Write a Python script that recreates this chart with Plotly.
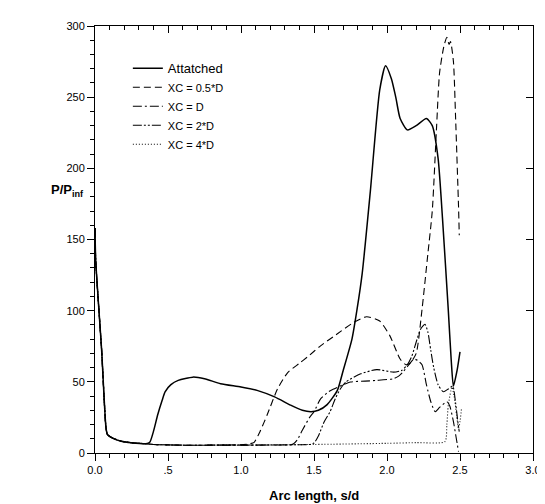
import plotly.graph_objects as go

# shared leading segment (all cases coincide near the nose)
head_s = [0.0, 0.005, 0.045, 0.075, 0.085, 0.12, 0.18, 0.25, 0.35]
head_v = [158, 135, 73, 18, 13, 10.5, 8.3, 7.2, 6.5]

att_s = head_s + [0.375, 0.40, 0.43, 0.46, 0.48, 0.52, 0.57, 0.67, 0.75, 0.86, 1.0, 1.11, 1.23, 1.34,
                  1.42, 1.48, 1.53, 1.59, 1.66, 1.70, 1.76, 1.795, 1.83, 1.886, 1.95, 1.99, 2.03, 2.06,
                  2.09, 2.14, 2.20, 2.27, 2.31, 2.35, 2.38, 2.42, 2.44, 2.455, 2.48, 2.50]
att_v = head_v + [7.5, 15, 27, 37, 43, 48, 51, 53.3, 52.2, 48.7, 46.4, 44, 39.4, 33.6,
                  30, 29, 30, 34, 44, 58, 80, 101, 126, 184, 255, 272, 263, 250,
                  235, 227, 230, 235, 230, 207, 165, 100, 65, 47, 58, 71]

xc05_s = head_s + [0.4, 0.6, 0.8, 1.0, 1.06, 1.09, 1.13, 1.18, 1.25, 1.32, 1.40, 1.455, 1.545, 1.65,
                   1.77, 1.86, 1.95, 2.02, 2.09, 2.13, 2.16, 2.20, 2.24, 2.28, 2.31, 2.34, 2.36, 2.39,
                   2.41, 2.425, 2.435, 2.455, 2.47, 2.49, 2.495]
xc05_v = head_v + [6, 5.5, 5.5, 5.8, 6.5, 7.5, 15, 27, 45, 56.5, 63, 67.5, 75.3, 83,
                   91.6, 95.7, 92.7, 82.3, 66, 62, 63.3, 70, 101, 140, 170, 230, 267, 286,
                   292, 287, 289, 275, 235, 173, 153]

xc1_s = head_s + [0.4, 0.6, 0.8, 1.0, 1.2, 1.34, 1.36, 1.386, 1.42, 1.47, 1.50, 1.545, 1.60, 1.636,
                  1.70, 1.75, 1.85, 1.93, 2.045, 2.08, 2.11, 2.15, 2.185, 2.21, 2.24, 2.27, 2.30,
                  2.33, 2.36, 2.41, 2.43, 2.455, 2.475, 2.49]
xc1_v = head_v + [6, 5.5, 5.5, 5.5, 5.6, 5.8, 6.5, 9.3, 16, 25, 29, 38, 43, 45,
                  48, 49.9, 50.5, 51, 52.2, 54, 57, 62, 66, 65, 62, 48, 36,
                  29, 32, 36, 33, 22, 10, 1]

xc2_s = head_s + [0.4, 0.6, 0.8, 1.0, 1.2, 1.4, 1.47, 1.50, 1.53, 1.57, 1.61, 1.645, 1.68, 1.72,
                  1.82, 1.93, 2.045, 2.10, 2.135, 2.17, 2.20, 2.23, 2.26, 2.28, 2.30, 2.32, 2.35,
                  2.386, 2.42, 2.45, 2.47, 2.488, 2.495]
xc2_v = head_v + [6, 5.5, 5.5, 5.5, 5.6, 5.8, 6, 7, 12, 22, 29, 38, 45, 50,
                  55.6, 58.6, 56.8, 58, 61.4, 68, 78, 87, 90.4, 85, 72, 60, 48,
                  43, 45, 47, 35, 19.7, 15]

xc4_s = head_s + [0.4, 0.6, 1.0, 1.5, 2.0, 2.2, 2.397, 2.41, 2.42, 2.445, 2.46, 2.477, 2.49, 2.50, 2.51]
xc4_v = head_v + [6, 5.5, 5.6, 6, 6.8, 7.3, 8, 20, 33.6, 46.4, 40, 26.6, 17, 22, 31]

names = ["<span style='font-size:13px'>Attatched</span>", "XC = 0.5*D", "XC = D", "XC = 2*D", "XC = 4*D"]
xs = [att_s, xc05_s, xc1_s, xc2_s, xc4_s]
ys = [att_v, xc05_v, xc1_v, xc2_v, xc4_v]
dashes = ["solid", "7px,4px", "9px,3px,2px,3px", "9px,2px,2px,2px,2px,2px", "1px,2px"]
widths = [1.5, 1.1, 1.1, 1.1, 1.1]

x_tickvals = [0, 0.5, 1.0, 1.5, 2.0, 2.5, 3.0]
x_ticktext = ["0.0", ".5", "1.0", "1.5", "2.0", "2.5", "3.0"]
y_tickvals = [0, 50, 100, 150, 200, 250, 300]

fig = go.Figure()
for n, x, y, d, w in zip(names, xs, ys, dashes, widths):
    fig.add_trace(go.Scatter(x=x, y=y, name=n, mode="lines",
                             line=dict(color="black", width=w, dash=d, shape="spline", smoothing=0.6)))

# invisible trace to activate mirrored axes
fig.add_trace(go.Scatter(x=[0], y=[0], xaxis="x2", yaxis="y2", mode="markers",
                         marker=dict(opacity=0), showlegend=False, hoverinfo="skip"))

font = dict(family="Liberation Sans, Arial, sans-serif", size=11, color="black")

fig.update_layout(
    width=545, height=504,
    margin=dict(l=87, r=18, t=13, b=59),
    paper_bgcolor="white", plot_bgcolor="white",
    font=font,
    showlegend=True,
    legend=dict(x=0.075, y=0.935, xanchor="left", yanchor="top", bgcolor="rgba(0,0,0,0)",
                font=dict(family="Liberation Sans, Arial, sans-serif", size=11, color="black"),
                tracegroupgap=0, itemwidth=30),
    xaxis=dict(range=[0, 3], tickvals=x_tickvals, ticktext=x_ticktext, ticks="outside", ticklen=7,
               tickcolor="black", showline=True, linecolor="black", linewidth=1, showgrid=False,
               zeroline=False, minor=dict(dtick=0.1, ticks="outside", ticklen=4, tickcolor="black"),
               tickfont=font),
    xaxis2=dict(range=[0, 3], overlaying="x", side="top", tickvals=x_tickvals, ticks="inside", ticklen=7,
                tickcolor="black", showline=True, linecolor="black", linewidth=1, showgrid=False,
                zeroline=False, showticklabels=False,
                minor=dict(dtick=0.1, ticks="inside", ticklen=4, tickcolor="black")),
    yaxis=dict(range=[0, 300], tickvals=y_tickvals, ticks="outside", ticklen=7, tickcolor="black",
               showline=True, linecolor="black", linewidth=1, showgrid=False, zeroline=False,
               minor=dict(dtick=10, ticks="outside", ticklen=4, tickcolor="black"), tickfont=font),
    yaxis2=dict(range=[0, 300], overlaying="y", side="right", tickvals=y_tickvals, ticks="inside",
                ticklen=7, tickcolor="black", showline=True, linecolor="black", linewidth=1,
                showgrid=False, zeroline=False, showticklabels=False),
    annotations=[
        dict(text="<b>Arc length, s/d</b>", x=0.5, y=-0.1, xref="paper", yref="paper",
             xanchor="center", yanchor="middle", showarrow=False,
             font=dict(family="Liberation Sans, Arial, sans-serif", size=13, color="black")),
        dict(text="<b>P/P<sub>inf</sub></b>", x=-0.062, y=0.615, xref="paper", yref="paper",
             xanchor="center", yanchor="middle", showarrow=False,
             font=dict(family="Liberation Sans, Arial, sans-serif", size=13, color="black")),
    ],
)

fig.write_html("out.html")
